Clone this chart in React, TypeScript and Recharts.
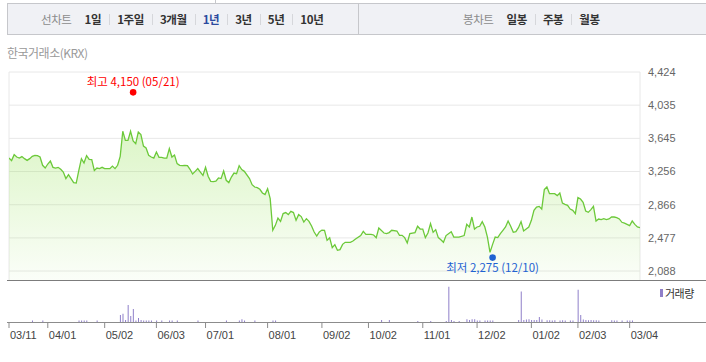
import { Area, Bar, BarChart, CartesianGrid, ComposedChart, ReferenceDot, XAxis, YAxis } from "recharts"

// [trading day index from 03/11, close]
const closes: [number, number][] = [
  [0, 3414], [1, 3384], [2, 3454], [3, 3426], [4, 3414], [5, 3431], [6, 3407], [7, 3387], [8, 3407], [9, 3434],
  [10, 3446], [11, 3443], [12, 3426], [13, 3329], [14, 3297], [15, 3344], [16, 3379], [17, 3305], [18, 3297], [19, 3305],
  [20, 3282], [21, 3250], [22, 3173], [23, 3220], [24, 3173], [25, 3126], [26, 3121], [27, 3270], [28, 3407], [29, 3356],
  [30, 3443], [31, 3399], [32, 3396], [33, 3267], [34, 3297], [35, 3290], [36, 3305], [37, 3290], [39, 3290], [40, 3320],
  [41, 3290], [42, 3329], [43, 3434], [44, 3728], [45, 3622], [46, 3622], [47, 3728], [48, 3614], [49, 3583], [50, 3720],
  [51, 3689], [52, 3555], [53, 3532], [54, 3446], [55, 3426], [56, 3414], [57, 3485], [58, 3423], [59, 3423], [60, 3414],
  [61, 3414], [62, 3525], [63, 3426], [64, 3450], [65, 3349], [66, 3329], [67, 3325], [68, 3329], [69, 3325], [70, 3282],
  [71, 3227], [72, 3258], [73, 3290], [74, 3250], [75, 3211], [76, 3305], [77, 3200], [78, 3141], [79, 3137], [80, 3144],
  [81, 3180], [82, 3173], [83, 3262], [84, 3153], [85, 3126], [86, 3191], [87, 3238], [88, 3231], [89, 3325], [90, 3278],
  [91, 3258], [93, 3173], [94, 3102], [95, 3074], [96, 3067], [97, 3047], [98, 3004], [99, 2985], [100, 3055], [101, 2938],
  [102, 2566], [103, 2624], [104, 2710], [105, 2671], [106, 2762], [107, 2774], [108, 2750], [109, 2789], [110, 2774], [111, 2683],
  [112, 2750], [113, 2727], [114, 2663], [115, 2703], [116, 2671], [117, 2616], [118, 2546], [119, 2499], [120, 2546], [121, 2569],
  [122, 2566], [123, 2448], [124, 2478], [125, 2363], [126, 2398], [127, 2331], [128, 2339], [129, 2401], [130, 2425], [132, 2425],
  [133, 2440], [134, 2464], [136, 2504], [137, 2554], [138, 2519], [140, 2519], [141, 2511], [142, 2480], [143, 2593], [145, 2534],
  [146, 2527], [147, 2539], [148, 2566], [150, 2558], [151, 2507], [152, 2507], [153, 2480], [154, 2417], [155, 2527], [157, 2539],
  [158, 2613], [159, 2581], [160, 2581], [161, 2480], [162, 2534], [163, 2644], [164, 2542], [165, 2574], [166, 2480], [167, 2456],
  [168, 2425], [169, 2504], [171, 2550], [172, 2487], [173, 2487], [174, 2487], [176, 2504], [177, 2636], [178, 2605], [179, 2722],
  [180, 2581], [181, 2605], [182, 2613], [183, 2668], [184, 2605], [185, 2487], [186, 2307], [187, 2401], [188, 2487], [189, 2480],
  [190, 2527], [191, 2566], [192, 2605], [193, 2675], [194, 2613], [195, 2542], [196, 2550], [197, 2597], [198, 2668], [199, 2558],
  [200, 2581], [201, 2605], [202, 2683], [203, 2800], [204, 2839], [205, 2847], [206, 2816], [207, 3043], [208, 3074], [209, 2996],
  [210, 2996], [211, 2996], [212, 2973], [213, 3004], [214, 2886], [215, 2871], [216, 2859], [217, 2816], [218, 2800], [219, 2762],
  [220, 2950], [221, 2933], [222, 2894], [223, 2792], [224, 2777], [225, 2809], [226, 2847], [227, 2675], [228, 2698], [229, 2691],
  [230, 2703], [231, 2691], [232, 2699], [233, 2722], [234, 2722], [235, 2715], [236, 2699], [237, 2660], [238, 2651], [240, 2621],
  [241, 2675], [242, 2636], [243, 2605], [244, 2597],
]

// [trading day index, volume (relative)]
const volumes: [number, number][] = [
  [9, 4], [13, 4], [27, 4], [28, 4], [29, 4], [30, 4], [34, 4],
  [43, 20], [44, 23], [45, 6], [46, 48], [47, 17], [48, 37], [49, 4], [50, 11], [51, 6], [52, 4], [53, 4], [54, 4], [55, 4],
  [57, 4], [59, 4], [62, 4], [63, 4], [65, 4], [73, 4], [84, 4], [89, 4], [90, 8], [91, 4], [95, 4], [102, 4], [103, 4],
  [144, 6], [147, 6], [158, 3], [163, 3], [169, 3], [170, 100], [171, 6], [172, 3], [174, 3],
  [177, 8], [178, 6], [179, 8], [180, 8], [181, 4], [182, 4], [184, 4], [185, 4], [186, 4], [187, 4],
  [197, 6], [198, 86], [199, 6], [200, 7], [201, 8], [202, 6], [203, 6], [204, 6], [205, 14], [206, 7],
  [208, 5], [209, 5], [210, 4], [211, 5], [213, 4], [214, 5], [215, 4], [217, 4], [218, 4],
  [220, 91], [221, 20], [222, 7], [223, 6], [224, 5], [225, 6], [226, 5], [227, 5], [228, 4],
  [233, 5], [234, 4], [235, 4], [237, 4], [239, 4], [240, 4], [241, 4],
]

const dateTicks = [0, 15, 37, 57, 76, 100, 121, 139, 160, 181, 202, 220, 240]
const dateLabels = ["03/11", "04/01", "05/02", "06/03", "07/01", "08/01", "09/02", "10/02", "11/01", "12/02", "01/02", "02/03", "03/04"]
const priceTicks = [2088, 2477, 2866, 3256, 3645, 4035, 4424]
const lineTabs = ["1일", "1주일", "3개월", "1년", "3년", "5년", "10년"]
const candleTabs = ["일봉", "주봉", "월봉"]
const activeTab = "1년"
const yearHigh = { day: 48, value: 4150, text: "최고 4,150 (05/21)" }
const yearLow = { day: 187, value: 2275, text: "최저 2,275 (12/10)" }

const priceData = closes.map(([day, close]) => ({ day, close }))
const volumeData = volumes.map(([day, volume]) => ({ day, volume }))

const KR = '"Noto Sans CJK KR", "Noto Sans", sans-serif'
const NUM = '"Liberation Sans", Arial, sans-serif'

function TabGroup({ title, tabs, left }: { title: string; tabs: string[]; left: number }) {
  return (
    <div style={{ position: "absolute", left, top: 0, height: "100%", display: "flex", alignItems: "center" }}>
      <span style={{ color: "#8c8c8c", marginRight: 13 }}>{title}</span>
      {tabs.map((t, i) => (
        <span key={t} style={{ display: "flex", alignItems: "center" }}>
          {i > 0 && <span style={{ width: 1, height: 11, background: "#d6d7db", margin: "0 7px 0 8px" }} />}
          <span style={{ fontWeight: 700, color: t === activeTab ? "#2b4a9e" : "#333" }}>{t}</span>
        </span>
      ))}
    </div>
  )
}

function DateTick(props: any) {
  const { x, y, payload } = props
  const label = dateLabels[dateTicks.indexOf(payload.value)]
  return (
    <g>
      <line x1={x} x2={x} y1={y} y2={y + 6} stroke="#8c8c8c" />
      <text x={x + 1} y={y + 17} fontSize={11} fill="#444" fontFamily={NUM}>{label}</text>
    </g>
  )
}

function Extreme(props: any, color: string, text: string, above: boolean) {
  const { cx, cy } = props
  const dotY = above ? cy - 3 : cy + 2.5
  const textY = above ? cy - 9 : cy + 17
  return (
    <g>
      <circle cx={cx} cy={dotY} r={3.3} fill={color} />
      <text x={cx} y={textY} textAnchor="middle" fontSize={11.5} fill={color} fontFamily={KR}>{text}</text>
    </g>
  )
}

export default function App() {
  return (
    <div style={{ position: "absolute", left: 0, top: 0, width: 706, height: 362, overflow: "hidden", background: "#fff" }}>
      <div style={{ position: "absolute", left: 215, top: 0, width: 1, height: 3, background: "#c6c7cb" }} />
      <div
        style={{
          position: "absolute", left: 7, top: 3, width: 720, height: 30,
          border: "1px solid #c6c7cb", background: "#f0f1f5",
          fontFamily: KR, fontSize: 11.5, letterSpacing: -0.4,
        }}
      >
        <TabGroup title="선차트" tabs={lineTabs} left={33} />
        <div style={{ position: "absolute", left: 350, top: 0, width: 1, height: "100%", background: "#c6c7cb" }} />
        <TabGroup title="봉차트" tabs={candleTabs} left={455} />
      </div>

      <div style={{ position: "absolute", left: 7, top: 44, fontFamily: KR, fontSize: 12, letterSpacing: -0.5, color: "#999" }}>
        한국거래소(KRX)
      </div>

      <div style={{ position: "absolute", left: 0, top: 0 }}>
        <ComposedChart width={706} height={281} data={priceData} margin={{ top: 72, right: 0, left: 9, bottom: 0 }}>
          <defs>
            <linearGradient id="priceFill" x1="0" y1="0" x2="0" y2="1">
              <stop offset="0%" stopColor="#8fe04c" stopOpacity={0.52} />
              <stop offset="100%" stopColor="#8fe04c" stopOpacity={0.06} />
            </linearGradient>
          </defs>
          <CartesianGrid stroke="#e8e8e8" />
          <XAxis
            type="number"
            dataKey="day"
            domain={[0, 244]}
            ticks={dateTicks}
            interval={0}
            height={0}
            tick={false}
            tickLine={false}
            axisLine={false}
            allowDataOverflow
          />
          <YAxis
            orientation="right"
            width={66}
            domain={[1971, 4424]}
            ticks={priceTicks}
            interval={0}
            allowDataOverflow
            tickLine={false}
            axisLine={false}
            tickFormatter={(v: number) => v.toLocaleString("en-US")}
            tick={{ fill: "#666", fontSize: 11, fontFamily: NUM }}
          />
          <Area
            type="linear"
            dataKey="close"
            stroke="#6cc93a"
            strokeWidth={1.3}
            fill="url(#priceFill)"
            baseValue="dataMin"
            isAnimationActive={false}
            dot={false}
            activeDot={false}
          />
          <ReferenceDot
            x={yearHigh.day}
            y={yearHigh.value}
            shape={(p: any) => Extreme(p, "#ff0000", yearHigh.text, true)}
          />
          <ReferenceDot
            x={yearLow.day}
            y={yearLow.value}
            shape={(p: any) => Extreme(p, "#1f62d2", yearLow.text, false)}
          />
        </ComposedChart>
      </div>

      <div style={{ position: "absolute", left: 7, top: 280, width: 699, height: 1, background: "#7c7c7c" }} />
      <div style={{ position: "absolute", left: 7, top: 322, width: 699, height: 1, background: "#8c8c8c" }} />

      <div style={{ position: "absolute", left: 0, top: 0 }}>
        <BarChart width={706} height={362} data={volumeData} margin={{ top: 281, right: 66, left: 9, bottom: 0 }}>
          <XAxis
            type="number"
            dataKey="day"
            domain={[0, 244]}
            ticks={dateTicks}
            interval={0}
            height={40}
            tickSize={0}
            tickMargin={0}
            tickLine={false}
            axisLine={false}
            tick={(p: any) => <DateTick {...p} />}
            allowDataOverflow
          />
          <YAxis hide domain={[0, 116]} allowDataOverflow />
          <Bar dataKey="volume" fill="#8f7fc9" barSize={1} isAnimationActive={false} />
        </BarChart>
      </div>

      <div style={{ position: "absolute", left: 660, top: 289, width: 3, height: 8, background: "#8f7fc9" }} />
      <div style={{ position: "absolute", left: 665, top: 285, fontFamily: KR, fontSize: 11, letterSpacing: -0.5, color: "#333" }}>
        거래량
      </div>
    </div>
  )
}
